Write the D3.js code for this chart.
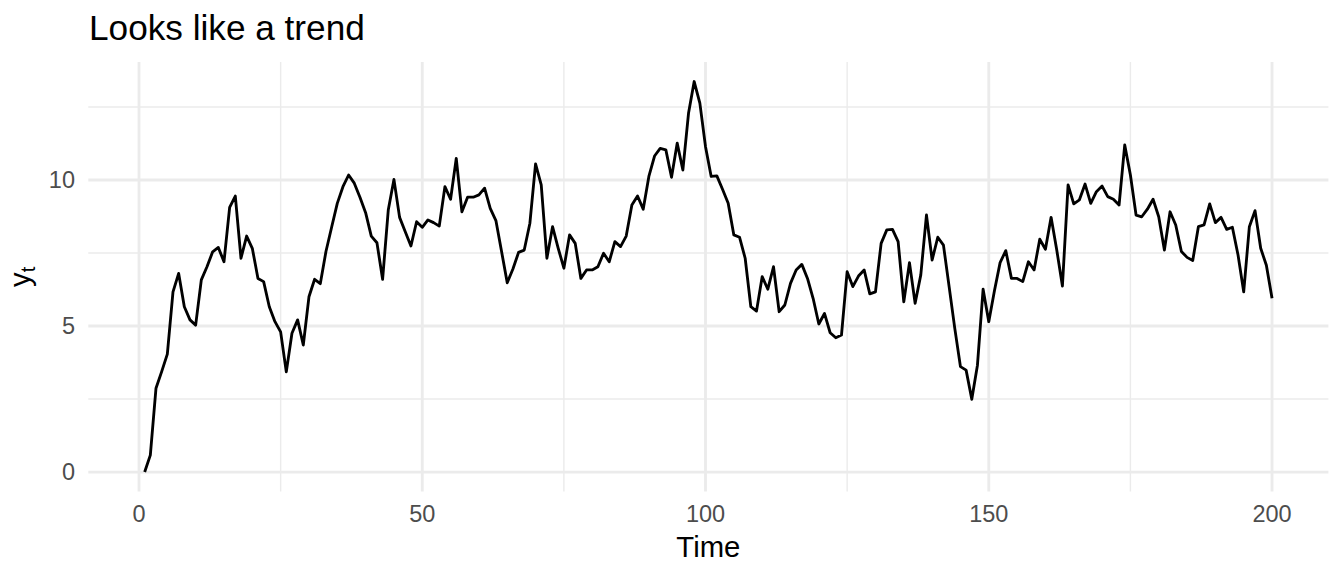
<html>
	<head>
		<title>Looks like a trend</title>
		<style>
			body { margin: 0; background: #fff; }
			svg { display: block; font-family: "Liberation Sans", Arial, Helvetica, sans-serif; }
		</style>
	</head>
	<body>
		<svg id="chart" width="1344" height="576"></svg>

		<script src="https://cdn.jsdelivr.net/npm/d3@7/dist/d3.min.js" charset="utf-8"></script>
		<script type="text/javascript">

			// series, time runs 1..200
			var values = [
				0.00, 0.58, 2.87, 3.44, 4.04, 6.17, 6.80, 5.66, 5.21, 5.03,
				6.58, 7.03, 7.54, 7.69, 7.20, 9.06, 9.45, 7.32, 8.08, 7.66,
				6.63, 6.52, 5.66, 5.15, 4.80, 3.43, 4.75, 5.21, 4.35, 6.00,
				6.60, 6.45, 7.55, 8.38, 9.20, 9.77, 10.17, 9.89, 9.41, 8.88,
				8.08, 7.85, 6.60, 8.97, 10.02, 8.72, 8.23, 7.74, 8.57, 8.38,
				8.63, 8.54, 8.42, 9.77, 9.34, 10.74, 8.91, 9.41, 9.41, 9.49,
				9.72, 9.03, 8.61, 7.55, 6.48, 6.95, 7.52, 7.60, 8.52, 10.55,
				9.83, 7.32, 8.40, 7.66, 6.98, 8.12, 7.83, 6.63, 6.92, 6.92,
				7.03, 7.49, 7.20, 7.89, 7.72, 8.08, 9.14, 9.45, 9.00, 10.12,
				10.82, 11.08, 11.03, 10.09, 11.26, 10.34, 12.28, 13.37, 12.63, 11.14,
				10.12, 10.14, 9.68, 9.20, 8.12, 8.04, 7.32, 5.66, 5.51, 6.69,
				6.26, 7.03, 5.49, 5.72, 6.46, 6.92, 7.11, 6.63, 5.94, 5.07,
				5.43, 4.77, 4.60, 4.69, 6.86, 6.35, 6.71, 6.92, 6.10, 6.17,
				7.83, 8.29, 8.31, 7.89, 5.83, 7.17, 5.78, 6.75, 8.80, 7.26,
				8.04, 7.77, 6.35, 4.92, 3.61, 3.49, 2.49, 3.66, 6.26, 5.15,
				6.21, 7.17, 7.58, 6.63, 6.63, 6.52, 7.20, 6.92, 7.97, 7.63,
				8.72, 7.60, 6.37, 9.83, 9.18, 9.32, 9.86, 9.20, 9.60, 9.79,
				9.43, 9.34, 9.14, 11.20, 10.17, 8.80, 8.74, 9.00, 9.34, 8.74,
				7.60, 8.91, 8.46, 7.55, 7.35, 7.24, 8.40, 8.46, 9.18, 8.54,
				8.72, 8.31, 8.38, 7.43, 6.17, 8.40, 8.95, 7.66, 7.08, 5.95
			];
			var time = d3.range(1, values.length + 1);

			var xMajor = [0, 50, 100, 150, 200];
			var xMinor = [25, 75, 125, 175];
			var yMajor = [0, 5, 10];
			var yMinor = [2.5, 7.5, 12.5];

			var titleText = 'Looks like a trend';
			var xTitle = 'Time';

			// panel edges ('top' is taken by window.top, hence the prefix)
			var pLeft = 88.3, pRight = 1328.4, pTop = 62, pBottom = 491.6;

			// ggplot style 5% padding on each side
			function padded(ext) {
				var d = (ext[1] - ext[0]) * 0.05;
				return [ext[0] - d, ext[1] + d];
			}

			var x = d3.scaleLinear().domain(padded(d3.extent(time))).range([pLeft, pRight]);
			var y = d3.scaleLinear().domain(padded(d3.extent(values))).range([pBottom, pTop]);

			var svg = d3.select('#chart');
			var grid = svg.append('g');

			grid.selectAll('line.xminor').data(xMinor).enter().append('line')
				.attr('x1', x).attr('x2', x)
				.attr('y1', pTop).attr('y2', pBottom)
				.attr('stroke', '#ebebeb').attr('stroke-width', 1.42);
			grid.selectAll('line.yminor').data(yMinor).enter().append('line')
				.attr('y1', y).attr('y2', y)
				.attr('x1', pLeft).attr('x2', pRight)
				.attr('stroke', '#ebebeb').attr('stroke-width', 1.42);
			grid.selectAll('line.xmajor').data(xMajor).enter().append('line')
				.attr('x1', x).attr('x2', x)
				.attr('y1', pTop).attr('y2', pBottom)
				.attr('stroke', '#ebebeb').attr('stroke-width', 2.84);
			grid.selectAll('line.ymajor').data(yMajor).enter().append('line')
				.attr('y1', y).attr('y2', y)
				.attr('x1', pLeft).attr('x2', pRight)
				.attr('stroke', '#ebebeb').attr('stroke-width', 2.84);

			var line = d3.line()
				.x(function(d, i) { return x(time[i]); })
				.y(function(d) { return y(d); });

			svg.append('path')
				.datum(values)
				.attr('d', line)
				.attr('fill', 'none')
				.attr('stroke', '#000')
				.attr('stroke-width', 2.84)
				.attr('stroke-linejoin', 'round')
				.attr('stroke-linecap', 'butt');

			// tick labels
			svg.selectAll('text.xtick').data(xMajor).enter().append('text')
				.attr('x', x).attr('y', 522)
				.attr('text-anchor', 'middle')
				.attr('font-size', 23.5)
				.attr('fill', '#4d4d4d')
				.text(function(d) { return d; });

			svg.selectAll('text.ytick').data(yMajor).enter().append('text')
				.attr('x', 75).attr('y', function(d) { return y(d) + 8.4; })
				.attr('text-anchor', 'end')
				.attr('font-size', 23.5)
				.attr('fill', '#4d4d4d')
				.text(function(d) { return d; });

			// titles
			svg.append('text')
				.attr('x', 89).attr('y', 40)
				.attr('font-size', 35.2)
				.attr('fill', '#000')
				.text(titleText);

			svg.append('text')
				.attr('x', (pLeft + pRight) / 2).attr('y', 557)
				.attr('text-anchor', 'middle')
				.attr('font-size', 29.3)
				.attr('fill', '#000')
				.text(xTitle);

			var yt = svg.append('text')
				.attr('transform', 'translate(30,' + ((pTop + pBottom) / 2) + ') rotate(-90)')
				.attr('text-anchor', 'middle')
				.attr('font-size', 29.3)
				.attr('fill', '#000');
			yt.append('tspan').text('y');
			yt.append('tspan').attr('font-size', 20.5).attr('dy', 5).text('t');

		</script>
	</body>
</html>
